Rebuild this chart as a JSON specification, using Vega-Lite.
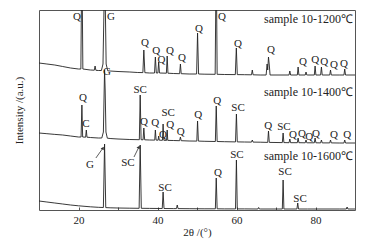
{
 "$schema": "https://vega.github.io/schema/vega-lite/v6.json",
 "width": 316, "height": 200,
 "autosize": "none",
 "padding": {"left": 39, "top": 10, "right": 16, "bottom": 36},
 "background": "white",
 "config": {"view": {"stroke": "#555", "strokeWidth": 1}, "font": "Liberation Serif"},
 "datasets": {
  "trace": [
   {"s":"1200","t":10,"i":147},{"s":"1200","t":12,"i":146},{"s":"1200","t":14,"i":145},{"s":"1200","t":16,"i":143.5},{"s":"1200","t":18,"i":142},{"s":"1200","t":20,"i":141},{"s":"1200","t":23,"i":140},{"s":"1200","t":25,"i":139.5},{"s":"1200","t":28,"i":139},{"s":"1200","t":30,"i":138.5},{"s":"1200","t":33,"i":138},{"s":"1200","t":35,"i":137.5},{"s":"1200","t":38,"i":137},{"s":"1200","t":44,"i":136.5},{"s":"1200","t":48,"i":136},{"s":"1200","t":52,"i":135.8},{"s":"1200","t":57,"i":135.5},{"s":"1200","t":62,"i":135.3},{"s":"1200","t":66,"i":135},{"s":"1200","t":70,"i":135},{"s":"1200","t":78,"i":135},{"s":"1200","t":86,"i":135},{"s":"1200","t":90,"i":135},
   {"s":"1200","t":20.6,"i":141},{"s":"1200","t":20.86,"i":260},{"s":"1200","t":21.1,"i":141},
   {"s":"1200","t":24.0,"i":139.8},{"s":"1200","t":24.2,"i":144},{"s":"1200","t":24.4,"i":139.7},
   {"s":"1200","t":25.8,"i":139.5},{"s":"1200","t":26.2,"i":146},{"s":"1200","t":26.45,"i":200},{"s":"1200","t":26.6,"i":260},{"s":"1200","t":26.8,"i":200},{"s":"1200","t":27.0,"i":146},{"s":"1200","t":27.4,"i":139.2},
   {"s":"1200","t":36.3,"i":137.4},{"s":"1200","t":36.54,"i":160},{"s":"1200","t":36.8,"i":137.3},
   {"s":"1200","t":39.25,"i":137},{"s":"1200","t":39.46,"i":153},{"s":"1200","t":39.7,"i":137},
   {"s":"1200","t":40.1,"i":137},{"s":"1200","t":40.3,"i":148},{"s":"1200","t":40.5,"i":137},
   {"s":"1200","t":42.25,"i":136.8},{"s":"1200","t":42.45,"i":154},{"s":"1200","t":42.65,"i":136.8},
   {"s":"1200","t":45.6,"i":136.3},{"s":"1200","t":45.8,"i":146},{"s":"1200","t":46.0,"i":136.3},
   {"s":"1200","t":49.9,"i":136},{"s":"1200","t":50.14,"i":177},{"s":"1200","t":50.4,"i":136},
   {"s":"1200","t":54.6,"i":135.7},{"s":"1200","t":54.87,"i":260},{"s":"1200","t":55.1,"i":135.7},
   {"s":"1200","t":59.7,"i":135.4},{"s":"1200","t":59.96,"i":162},{"s":"1200","t":60.2,"i":135.4},
   {"s":"1200","t":63.8,"i":135.2},{"s":"1200","t":64.0,"i":140},{"s":"1200","t":64.2,"i":135.2},
   {"s":"1200","t":67.5,"i":135},{"s":"1200","t":67.75,"i":146},{"s":"1200","t":67.9,"i":140},{"s":"1200","t":68.1,"i":153},{"s":"1200","t":68.3,"i":145},{"s":"1200","t":68.5,"i":135},
   {"s":"1200","t":73.3,"i":135},{"s":"1200","t":73.5,"i":139},{"s":"1200","t":73.7,"i":135},
   {"s":"1200","t":75.4,"i":135},{"s":"1200","t":75.6,"i":143},{"s":"1200","t":75.8,"i":135},
   {"s":"1200","t":77.4,"i":135},{"s":"1200","t":77.6,"i":138},{"s":"1200","t":77.8,"i":135},
   {"s":"1200","t":79.7,"i":135},{"s":"1200","t":79.9,"i":144},{"s":"1200","t":80.1,"i":135},
   {"s":"1200","t":81.3,"i":135},{"s":"1200","t":81.5,"i":143},{"s":"1200","t":81.7,"i":135},
   {"s":"1200","t":83.6,"i":135},{"s":"1200","t":83.8,"i":140},{"s":"1200","t":84.0,"i":135},
   {"s":"1200","t":87.2,"i":135},{"s":"1200","t":87.4,"i":141},{"s":"1200","t":87.6,"i":135},

   {"s":"1400","t":10,"i":77},{"s":"1400","t":12,"i":76.3},{"s":"1400","t":14,"i":75.6},{"s":"1400","t":16,"i":75},{"s":"1400","t":18,"i":74},{"s":"1400","t":20,"i":73},{"s":"1400","t":23,"i":72.5},{"s":"1400","t":25,"i":72},{"s":"1400","t":28,"i":71.5},{"s":"1400","t":30,"i":71},{"s":"1400","t":33,"i":70.5},{"s":"1400","t":38,"i":70},{"s":"1400","t":44,"i":69.5},{"s":"1400","t":48,"i":69},{"s":"1400","t":52,"i":68.7},{"s":"1400","t":57,"i":68.3},{"s":"1400","t":62,"i":68},{"s":"1400","t":66,"i":67.8},{"s":"1400","t":70,"i":67.5},{"s":"1400","t":78,"i":67.2},{"s":"1400","t":86,"i":67},{"s":"1400","t":90,"i":67},
   {"s":"1400","t":20.65,"i":73},{"s":"1400","t":20.86,"i":105},{"s":"1400","t":21.05,"i":73},
   {"s":"1400","t":21.8,"i":72.8},{"s":"1400","t":21.98,"i":80},{"s":"1400","t":22.15,"i":72.8},
   {"s":"1400","t":25.9,"i":72},{"s":"1400","t":26.3,"i":78},{"s":"1400","t":26.5,"i":120},{"s":"1400","t":26.6,"i":140},{"s":"1400","t":26.75,"i":120},{"s":"1400","t":26.95,"i":78},{"s":"1400","t":27.3,"i":71.8},
   {"s":"1400","t":35.4,"i":70.3},{"s":"1400","t":35.62,"i":115},{"s":"1400","t":35.85,"i":70.3},
   {"s":"1400","t":36.35,"i":70.2},{"s":"1400","t":36.54,"i":82},{"s":"1400","t":36.75,"i":70.2},
   {"s":"1400","t":39.3,"i":69.9},{"s":"1400","t":39.46,"i":80},{"s":"1400","t":39.65,"i":69.9},
   {"s":"1400","t":40.15,"i":69.8},{"s":"1400","t":40.3,"i":74},{"s":"1400","t":40.45,"i":69.8},
   {"s":"1400","t":41.25,"i":69.7},{"s":"1400","t":41.42,"i":86},{"s":"1400","t":41.6,"i":69.7},
   {"s":"1400","t":42.3,"i":69.6},{"s":"1400","t":42.45,"i":80},{"s":"1400","t":42.6,"i":69.6},
   {"s":"1400","t":45.6,"i":69.3},{"s":"1400","t":45.8,"i":73},{"s":"1400","t":46.0,"i":69.3},
   {"s":"1400","t":49.95,"i":68.9},{"s":"1400","t":50.14,"i":89},{"s":"1400","t":50.35,"i":68.9},
   {"s":"1400","t":54.65,"i":68.5},{"s":"1400","t":54.87,"i":104},{"s":"1400","t":55.1,"i":68.5},
   {"s":"1400","t":59.75,"i":68.1},{"s":"1400","t":59.98,"i":96},{"s":"1400","t":60.2,"i":68.1},
   {"s":"1400","t":63.8,"i":67.9},{"s":"1400","t":64.0,"i":70},{"s":"1400","t":64.2,"i":67.9},
   {"s":"1400","t":67.9,"i":67.6},{"s":"1400","t":68.1,"i":79},{"s":"1400","t":68.3,"i":67.6},
   {"s":"1400","t":71.6,"i":67.4},{"s":"1400","t":71.8,"i":77},{"s":"1400","t":72.0,"i":67.4},
   {"s":"1400","t":73.3,"i":67.3},{"s":"1400","t":73.5,"i":71},{"s":"1400","t":73.7,"i":67.3},
   {"s":"1400","t":75.4,"i":67.3},{"s":"1400","t":75.6,"i":72},{"s":"1400","t":75.8,"i":67.3},
   {"s":"1400","t":77.4,"i":67.2},{"s":"1400","t":77.6,"i":70},{"s":"1400","t":77.8,"i":67.2},
   {"s":"1400","t":79.7,"i":67.2},{"s":"1400","t":79.9,"i":72},{"s":"1400","t":80.1,"i":67.2},
   {"s":"1400","t":81.3,"i":67.1},{"s":"1400","t":81.5,"i":70},{"s":"1400","t":81.7,"i":67.1},
   {"s":"1400","t":83.6,"i":67.1},{"s":"1400","t":83.8,"i":70},{"s":"1400","t":84.0,"i":67.1},
   {"s":"1400","t":87.2,"i":67},{"s":"1400","t":87.4,"i":70},{"s":"1400","t":87.6,"i":67},

   {"s":"1600","t":10,"i":9},{"s":"1600","t":12,"i":8},{"s":"1600","t":14,"i":7},{"s":"1600","t":16,"i":6},{"s":"1600","t":18,"i":5},{"s":"1600","t":20,"i":4.2},{"s":"1600","t":23,"i":3.2},{"s":"1600","t":25,"i":2.7},{"s":"1600","t":28,"i":2.2},{"s":"1600","t":30,"i":2},{"s":"1600","t":33,"i":1.8},{"s":"1600","t":38,"i":1.6},{"s":"1600","t":44,"i":1.4},{"s":"1600","t":48,"i":1.3},{"s":"1600","t":52,"i":1.2},{"s":"1600","t":57,"i":1.1},{"s":"1600","t":62,"i":1.1},{"s":"1600","t":66,"i":1},{"s":"1600","t":70,"i":1},{"s":"1600","t":78,"i":1},{"s":"1600","t":86,"i":1},{"s":"1600","t":90,"i":1},
   {"s":"1600","t":26.3,"i":2.5},{"s":"1600","t":26.6,"i":66},{"s":"1600","t":26.9,"i":2.4},
   {"s":"1600","t":35.35,"i":1.7},{"s":"1600","t":35.62,"i":65},{"s":"1600","t":35.9,"i":1.7},
   {"s":"1600","t":41.2,"i":1.5},{"s":"1600","t":41.42,"i":18},{"s":"1600","t":41.65,"i":1.5},
   {"s":"1600","t":44.8,"i":1.4},{"s":"1600","t":45.0,"i":5},{"s":"1600","t":45.2,"i":1.4},
   {"s":"1600","t":54.65,"i":1.2},{"s":"1600","t":54.87,"i":32},{"s":"1600","t":55.1,"i":1.2},
   {"s":"1600","t":59.75,"i":1.1},{"s":"1600","t":59.98,"i":50},{"s":"1600","t":60.2,"i":1.1},
   {"s":"1600","t":65.4,"i":1},{"s":"1600","t":65.6,"i":2.5},{"s":"1600","t":65.8,"i":1},
   {"s":"1600","t":71.6,"i":1},{"s":"1600","t":71.8,"i":30},{"s":"1600","t":72.0,"i":1},
   {"s":"1600","t":75.3,"i":1},{"s":"1600","t":75.5,"i":7},{"s":"1600","t":75.7,"i":1},
   {"s":"1600","t":87.8,"i":1},{"s":"1600","t":88.0,"i":3},{"s":"1600","t":88.2,"i":1}
  ],
  "labels": [
   {"label":"Q","t":19.62,"i":193},{"label":"G","t":28.23,"i":193},{"label":"Q","t":36.84,"i":167},{"label":"Q","t":39.7,"i":159},{"label":"Q","t":41.0,"i":150},{"label":"Q","t":43.16,"i":159},{"label":"Q","t":46.2,"i":152},{"label":"Q","t":50.5,"i":181},{"label":"Q","t":56.3,"i":193},{"label":"Q","t":60.4,"i":166},{"label":"Q","t":68.7,"i":160},{"label":"Q","t":76.8,"i":148},{"label":"Q","t":79.9,"i":150},{"label":"Q","t":82.2,"i":148},{"label":"Q","t":84.7,"i":145},{"label":"Q","t":87.2,"i":146},
   {"label":"Q","t":21.1,"i":112},{"label":"C","t":21.9,"i":86},{"label":"G","t":27.2,"i":138},{"label":"SC","t":35.6,"i":120},{"label":"Q","t":36.6,"i":88},{"label":"Q","t":39.4,"i":87},{"label":"Q","t":41.4,"i":75},{"label":"SC","t":42.7,"i":97},{"label":"Q","t":43.2,"i":85},{"label":"Q","t":45.9,"i":78},{"label":"Q","t":50.3,"i":95},{"label":"Q","t":55.1,"i":109},{"label":"SC","t":60.4,"i":102},{"label":"Q","t":68.0,"i":84},{"label":"SC","t":72.0,"i":83},{"label":"Q","t":74.3,"i":75},{"label":"Q","t":76.6,"i":76},{"label":"Q","t":78.4,"i":73},{"label":"Q","t":80.1,"i":76},{"label":"Q","t":84.7,"i":75},{"label":"Q","t":88.0,"i":75},
   {"label":"G","t":22.9,"i":45},{"label":"SC","t":32.5,"i":47},{"label":"SC","t":41.9,"i":22},{"label":"Q","t":55.3,"i":37},{"label":"SC","t":60.1,"i":55},{"label":"SC","t":72.3,"i":38},{"label":"SC","t":76.1,"i":11}
  ],
  "samples": [
   {"label":"sample 10-1200℃","t":89.5,"i":191},
   {"label":"sample 10-1400℃","t":89.5,"i":118},
   {"label":"sample 10-1600℃","t":89.5,"i":54}
  ],
  "arrows": [
   {"t0":24.4,"i0":52,"t1":26.2,"i1":62},
   {"t0":34.05,"i0":53,"t1":35.3,"i1":63}
  ]
 },
 "layer": [
  {
   "data": {"name": "trace"},
   "mark": {"type": "line", "clip": true, "color": "#222", "strokeWidth": 0.9},
   "encoding": {
    "x": {"field": "t", "type": "quantitative", "scale": {"domain": [10, 90], "nice": false},
     "axis": {"title": "2θ /(°)", "values": [20,30,40,50,60,70,80],
      "labelExpr": "(datum.value == 20 || datum.value == 40 || datum.value == 60 || datum.value == 80) ? datum.label : ''",
      "labelFlush": false, "labelOverlap": false, "offset": -3, "domain": false, "tickSize": 3, "grid": false, "labelFontSize": 11, "labelPadding": 4,
      "labelFont": "Liberation Serif", "labelColor": "#222", "titleFont": "Liberation Serif", "titleFontSize": 11,
      "titleFontWeight": "normal", "titleColor": "#222", "titlePadding": 1, "tickColor": "#555"}},
    "y": {"field": "i", "type": "quantitative", "scale": {"domain": [0, 200], "nice": false},
     "axis": {"title": "Intensity /(a.u.)", "labels": false, "ticks": false, "grid": false, "domain": false,
      "titleFont": "Liberation Serif", "titleFontSize": 11, "titleFontWeight": "normal", "titleColor": "#222", "titlePadding": 15}},
    "detail": {"field": "s"}
   }
  },
  {
   "data": {"name": "labels"},
   "mark": {"type": "text", "fontSize": 11, "font": "Liberation Serif", "color": "#222", "baseline": "middle", "align": "center"},
   "encoding": {
    "x": {"field": "t", "type": "quantitative"},
    "y": {"field": "i", "type": "quantitative"},
    "text": {"field": "label"}
   }
  },
  {
   "data": {"name": "samples"},
   "mark": {"type": "text", "fontSize": 12, "font": "Liberation Serif", "color": "#222", "baseline": "middle", "align": "right"},
   "encoding": {
    "x": {"field": "t", "type": "quantitative"},
    "y": {"field": "i", "type": "quantitative"},
    "text": {"field": "label"}
   }
  },
  {
   "data": {"name": "arrows"},
   "mark": {"type": "rule", "color": "#333", "strokeWidth": 0.8},
   "encoding": {
    "x": {"field": "t0", "type": "quantitative"},
    "y": {"field": "i0", "type": "quantitative"},
    "x2": {"field": "t1"},
    "y2": {"field": "i1"}
   }
  },
  {
   "data": {"name": "arrows"},
   "mark": {"type": "point", "shape": "triangle-up", "filled": true, "size": 14, "angle": 32, "color": "#333", "opacity": 1},
   "encoding": {
    "x": {"field": "t1", "type": "quantitative"},
    "y": {"field": "i1", "type": "quantitative"}
   }
  }
 ]
}
